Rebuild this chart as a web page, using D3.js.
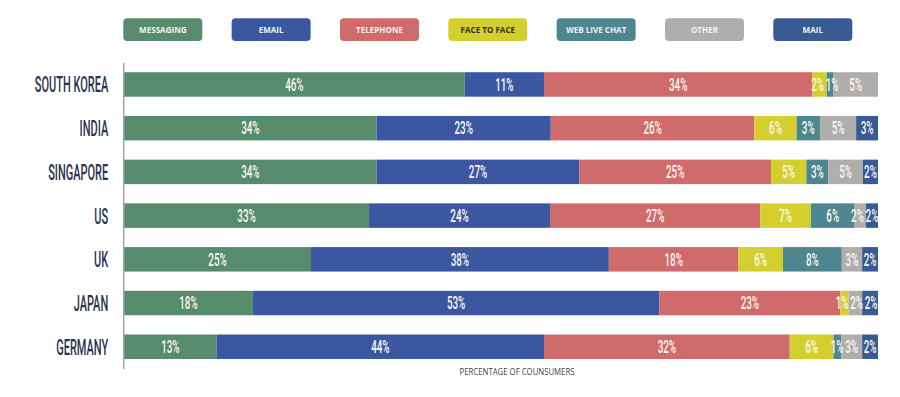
<!DOCTYPE html>
<html>
<head>
<meta charset="utf-8">
<script src="https://cdn.jsdelivr.net/npm/d3@7"></script>
<style>
  html, body { margin: 0; padding: 0; background: #fff; }
  svg { display: block; }
</style>
</head>
<body>
<svg id="chart" width="900" height="397"></svg>
<script>
// ---- data ----
const countries = ["SOUTH KOREA", "INDIA", "SINGAPORE", "US", "UK", "JAPAN", "GERMANY"];
const channels = ["MESSAGING", "EMAIL", "TELEPHONE", "FACE TO FACE", "WEB LIVE CHAT", "OTHER", "MAIL"];
// printed percentages (per channel, in country order)
const messaging   = [46, 34, 34, 33, 25, 18, 13];
const email       = [11, 23, 27, 24, 38, 53, 44];
const telephone   = [34, 26, 25, 27, 18, 23, 32];
const faceToFace  = [2, 6, 5, 7, 6, 1, 6];
const webLiveChat = [1, 3, 3, 6, 8, 0, 1];
const other       = [5, 5, 5, 2, 3, 2, 3];
const mail        = [0, 3, 2, 2, 2, 2, 2];
// segment lengths as drawn in the picture (share of each bar, %)
const messagingShare   = [45.2, 33.5, 33.5, 32.5, 24.8, 17.1, 12.3];
const emailShare       = [10.5, 23.1, 26.9, 24.0, 39.5, 53.9, 43.4];
const telephoneShare   = [35.6, 27.0, 25.4, 27.9, 17.2, 24.0, 32.6];
const faceToFaceShare  = [1.9, 5.6, 4.7, 6.7, 5.9, 1.1, 5.8];
const webLiveChatShare = [0.9, 3.1, 2.9, 5.8, 7.8, 0.0, 1.0];
const otherShare       = [5.9, 4.8, 4.6, 1.5, 2.7, 1.8, 2.8];
const mailShare        = [0.0, 2.9, 2.0, 1.6, 2.1, 2.1, 2.1];
const axisTitle = "PERCENTAGE OF COUNSUMERS";

const colors = ["#568c6d", "#3b57a1", "#d06b6c", "#d4cf2f", "#4e8690", "#afaead", "#375b93"];
const legendTextColors = ["#f2f2f2", "#f2f2f2", "#f7f2f2", "#2f2f1a", "#eef2f2", "#f2f2f2", "#f2f2f2"];

// ---- build table ----
const printed = [messaging, email, telephone, faceToFace, webLiveChat, other, mail];
const shares = [messagingShare, emailShare, telephoneShare, faceToFaceShare, webLiveChatShare, otherShare, mailShare];
const table = countries.map((c, i) => {
  const row = { country: c };
  channels.forEach((ch, j) => { row[ch] = shares[j][i]; });
  return row;
});

const svg = d3.select("#chart");
const x = d3.scaleLinear().domain([0, 100]).range([124, 878]);
const y = d3.scaleBand().domain(countries).range([62.6, 368.6]).paddingInner(0.44).paddingOuter(0.22);
const color = d3.scaleOrdinal().domain(channels).range(colors);

const stacked = d3.stack().keys(channels)(table);

// bars
const layers = svg.append("g").selectAll("g").data(stacked).join("g")
  .attr("fill", d => color(d.key));
layers.selectAll("rect").data(d => d.map(p => ({ p, key: d.key })))
  .join("rect")
  .attr("x", d => x(d.p[0]))
  .attr("y", d => y(d.p.data.country))
  .attr("width", d => Math.max(0, x(d.p[1]) - x(d.p[0])))
  .attr("height", y.bandwidth());

// value labels (with simple left/right relaxation for crowded narrow segments)
const labelData = [];
countries.forEach((c, i) => {
  const row = [];
  stacked.forEach((layer, j) => {
    const v = printed[j][i];
    const p = layer[i];
    if (v > 0) row.push({ v, cx: (x(p[0]) + x(p[1])) / 2, cy: y(c) + y.bandwidth() / 2 });
  });
  const minGap = 14.5;
  for (let it = 0; it < 30; it++) {
    for (let k = 1; k < row.length; k++) {
      const a = row[k - 1], b = row[k];
      const d = b.cx - a.cx;
      if (d < minGap) {
        const push = (minGap - d) / 2;
        a.cx -= push; b.cx += push;
      }
    }
    const last = row[row.length - 1];
    if (last.cx > x(100) - 6) last.cx = x(100) - 6;
  }
  labelData.push(...row);
});
svg.append("g").selectAll("text").data(labelData).join("text")
  .attr("transform", d => `translate(${d.cx},${d.cy}) scale(0.56,1)`)
  .attr("text-anchor", "middle")
  .attr("dy", "0.36em")
  .attr("font-family", "Roboto, sans-serif")
  .attr("font-weight", 500)
  .attr("font-size", 17.5)
  .attr("fill", "#fbf7ef")
  .text(d => d.v + "%");

// y axis
const yAxis = svg.append("g")
  .attr("transform", `translate(${x(0) - 0.8},0)`)
  .call(d3.axisLeft(y).tickSize(0).tickSizeOuter(0));
yAxis.select(".domain").attr("stroke", "#a8a8a8").attr("stroke-width", 1.6);
yAxis.selectAll(".tick text")
  .attr("x", null)
  .attr("dy", "0.36em")
  .attr("transform", "translate(-15,0) scale(0.5,1)")
  .attr("text-anchor", "end")
  .attr("font-family", "Roboto, sans-serif")
  .attr("font-weight", 500)
  .attr("font-size", 22)
  .attr("fill", "#2b3250");

// axis title
svg.append("text")
  .attr("transform", `translate(517,375) scale(0.95,1)`)
  .attr("text-anchor", "middle")
  .attr("font-family", "'Open Sans', sans-serif")
  .attr("font-size", 8.2)
  .attr("fill", "#444")
  .text(axisTitle);

// legend
const legendX = d3.scalePoint().domain(channels).range([123.3, 773.3]);
const lg = svg.append("g").selectAll("g").data(channels).join("g")
  .attr("transform", d => `translate(${legendX(d)},18.3)`);
lg.append("rect")
  .attr("width", 79).attr("height", 22.7).attr("rx", 4).attr("ry", 4)
  .attr("fill", d => color(d));
lg.append("text")
  .attr("transform", "translate(39.5,11.5) scale(0.85,1)")
  .attr("text-anchor", "middle")
  .attr("dy", "0.36em")
  .attr("font-family", "'Open Sans', sans-serif")
  .attr("font-weight", 700)
  .attr("font-size", 9.5)
  .attr("fill", (d, i) => legendTextColors[i])
  .text(d => d);
</script>
</body>
</html>
